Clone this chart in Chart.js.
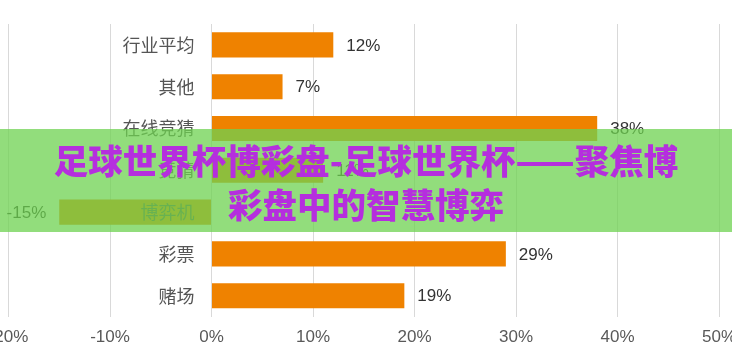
<!DOCTYPE html>
<html>
<head>
<meta charset="utf-8">
<script src="https://cdn.jsdelivr.net/npm/chart.js@4/dist/chart.umd.min.js"></script>
<style>
  html, body { margin: 0; padding: 0; background: #fff; overflow: hidden; }
  body { width: 732px; height: 361px; position: relative; }
  #wrap { position: absolute; left: -40px; top: 0; width: 812px; height: 360px; }
  #banner {
    position: absolute; left: 0; top: 129px; width: 732px; height: 103px;
    background: rgba(110, 210, 80, 0.75);
    text-align: center; box-sizing: border-box; padding-top: 8px;
    font-family: "Noto Sans CJK SC", sans-serif; font-weight: 900;
    font-size: 34.5px; line-height: 44px; color: #B52EDE; white-space: nowrap;
  }
</style>
</head>
<body>
<div id="wrap"><canvas id="c"></canvas></div>
<div id="banner">足球世界杯博彩盘-足球世界杯——聚焦博<br>彩盘中的智慧博弈</div>
<script>
const categories = ["行业平均", "其他", "在线竞猜", "竞猜", "博弈机", "彩票", "赌场"];
const values = [12, 7, 38, 11, -15, 29, 19];
const xTicks = [-20, -10, 0, 10, 20, 30, 40, 50];

const labelPlugin = {
  id: 'barLabels',
  afterDatasetsDraw(chart) {
    const ctx = chart.ctx;
    const xs = chart.scales.x, ys = chart.scales.y;
    const x0 = xs.getPixelForValue(0);
    ctx.save();
    ctx.textBaseline = 'middle';
    categories.forEach((cat, i) => {
      const y = ys.getPixelForValue(i);
      ctx.font = '18px "Noto Sans CJK SC", sans-serif';
      ctx.fillStyle = '#555';
      ctx.textAlign = 'right';
      ctx.fillText(cat, x0 - 17, y);
      const v = values[i];
      const xe = xs.getPixelForValue(v);
      ctx.font = '17px "Liberation Sans", Arial, sans-serif';
      ctx.fillStyle = '#333';
      if (v >= 0) { ctx.textAlign = 'left'; ctx.fillText(v + '%', xe + 13, y + 1); }
      else { ctx.textAlign = 'right'; ctx.fillText(v + '%', xe - 13, y + 1); }
    });
    ctx.restore();
  }
};

new Chart(document.getElementById('c'), {
  type: 'bar',
  data: {
    labels: categories,
    datasets: [{
      data: values,
      backgroundColor: '#EF8200',
      borderWidth: 0,
      categoryPercentage: 1,
      barPercentage: 0.6
    }]
  },
  options: {
    indexAxis: 'y',
    responsive: true,
    maintainAspectRatio: false,
    animation: false,
    layout: { padding: { left: 48.5, right: 53, top: 24, bottom: 1 } },
    plugins: { legend: { display: false }, tooltip: { enabled: false } },
    scales: {
      x: {
        min: xTicks[0], max: xTicks[xTicks.length - 1],
        afterBuildTicks(scale) { scale.ticks = xTicks.map(v => ({ value: v })); },
        grid: { color: '#d9d9d9', drawTicks: false, lineWidth: 1 },
        border: { display: false },
        ticks: {
          padding: 11,
          color: '#595959',
          font: { size: 17, family: '"Liberation Sans", Arial, sans-serif' },
          callback: v => v + '%'
        }
      },
      y: { display: false }
    }
  },
  plugins: [labelPlugin]
});
</script>
</body>
</html>
